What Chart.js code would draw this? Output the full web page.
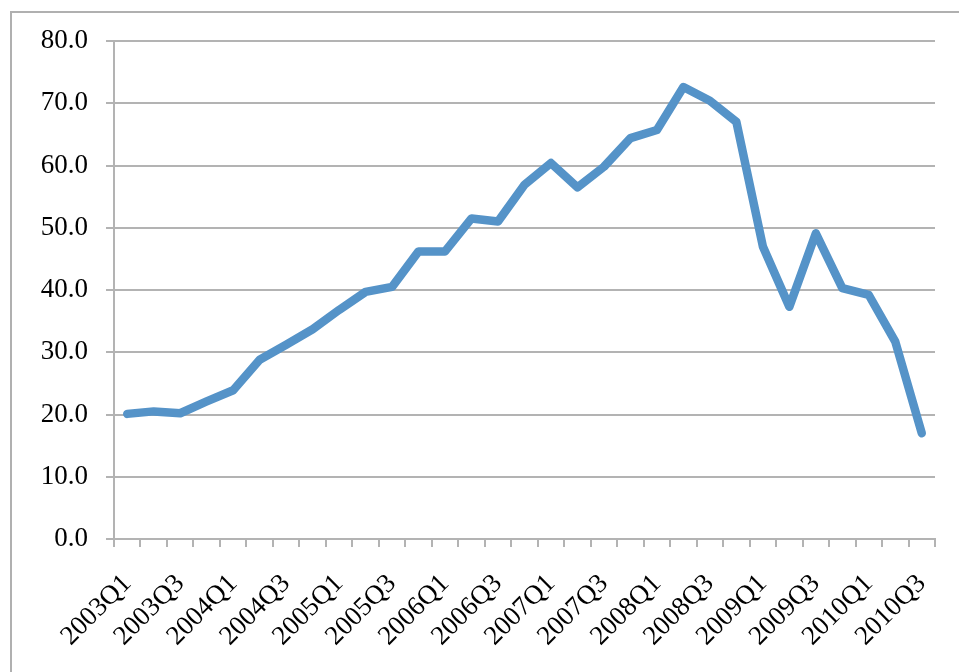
<!DOCTYPE html>
<html>
<head>
<meta charset="utf-8">
<script src="https://cdn.jsdelivr.net/npm/chart.js@4/dist/chart.umd.min.js"></script>
<style>
  html, body { margin: 0; padding: 0; background: #fff; overflow: hidden; }
  #frame {
    position: absolute; left: 10px; top: 11px; width: 980px; height: 700px;
    border-left: 2px solid #b0b0b0; border-top: 2px solid #b0b0b0;
  }
  #wrap { position: absolute; left: 0; top: 0; width: 959px; height: 672px; }
</style>
</head>
<body>
<div id="frame"></div>
<div id="wrap"><canvas id="chart"></canvas></div>
<script>
// quarters shown on the x axis
const quarters = [
    '2003Q1', '2003Q2', '2003Q3', '2003Q4',
    '2004Q1', '2004Q2', '2004Q3', '2004Q4',
    '2005Q1', '2005Q2', '2005Q3', '2005Q4',
    '2006Q1', '2006Q2', '2006Q3', '2006Q4',
    '2007Q1', '2007Q2', '2007Q3', '2007Q4',
    '2008Q1', '2008Q2', '2008Q3', '2008Q4',
    '2009Q1', '2009Q2', '2009Q3', '2009Q4',
    '2010Q1', '2010Q2', '2010Q3'
];

// values
const values = [
    20.1, 20.5, 20.2, 22.1,
    23.9, 28.8, 31.2, 33.7,
    36.8, 39.7, 40.5, 46.2,
    46.2, 51.5, 51.0, 56.9,
    60.4, 56.5, 59.8, 64.4,
    65.7, 72.6, 70.4, 67.0,
    47.0, 37.3, 49.1, 40.3,
    39.2, 31.7, 17.0
];

const yMin = 0;
const yMax = 80;
const yStep = 10;

const gridColor = '#b3b3b3';
const lineColor = '#5593c8';
const labelFont = { family: '"Liberation Serif", "DejaVu Serif", serif', size: 27 };

const ctx = document.getElementById('chart').getContext('2d');
const chart = new Chart(ctx, {
    type: 'line',
    data: {
        labels: quarters,
        datasets: [{
            data: values,
            borderColor: lineColor,
            borderWidth: 8.5,
            borderJoinStyle: 'round',
            borderCapStyle: 'round',
            pointRadius: 0,
            tension: 0,
            fill: false
        }]
    },
    options: {
        responsive: true,
        maintainAspectRatio: false,
        animation: false,
        layout: { padding: { left: 0, right: 24, top: 41, bottom: 0 } },
        plugins: {
            legend: { display: false },
            tooltip: { enabled: false }
        },
        scales: {
            x: {
                offset: true,
                grid: {
                    offset: true,
                    drawOnChartArea: false,
                    drawTicks: true,
                    tickLength: 8,
                    color: gridColor,
                    lineWidth: 2
                },
                border: { color: gridColor, width: 2 },
                ticks: {
                    autoSkip: false,
                    maxRotation: 45,
                    minRotation: 45,
                    padding: 21,
                    color: '#000',
                    font: labelFont,
                    // only every second quarter gets a label
                    callback: (value, index) => index % 2 === 0 ? quarters[index] : ''
                },
                afterFit: (scale) => {
                    // keep the plot area fixed, labels may overhang
                    scale.height = 133;
                    scale.paddingLeft = 0;
                    scale.paddingRight = 0;
                }
            },
            y: {
                min: yMin,
                max: yMax,
                grid: {
                    color: gridColor,
                    lineWidth: 2,
                    tickLength: 8
                },
                border: { color: gridColor, width: 2 },
                ticks: {
                    stepSize: yStep,
                    padding: 18,
                    color: '#000',
                    font: labelFont,
                    callback: (value) => value.toFixed(1)
                },
                afterFit: (scale) => { scale.width = 114; }
            }
        }
    }
});
</script>
</body>
</html>
